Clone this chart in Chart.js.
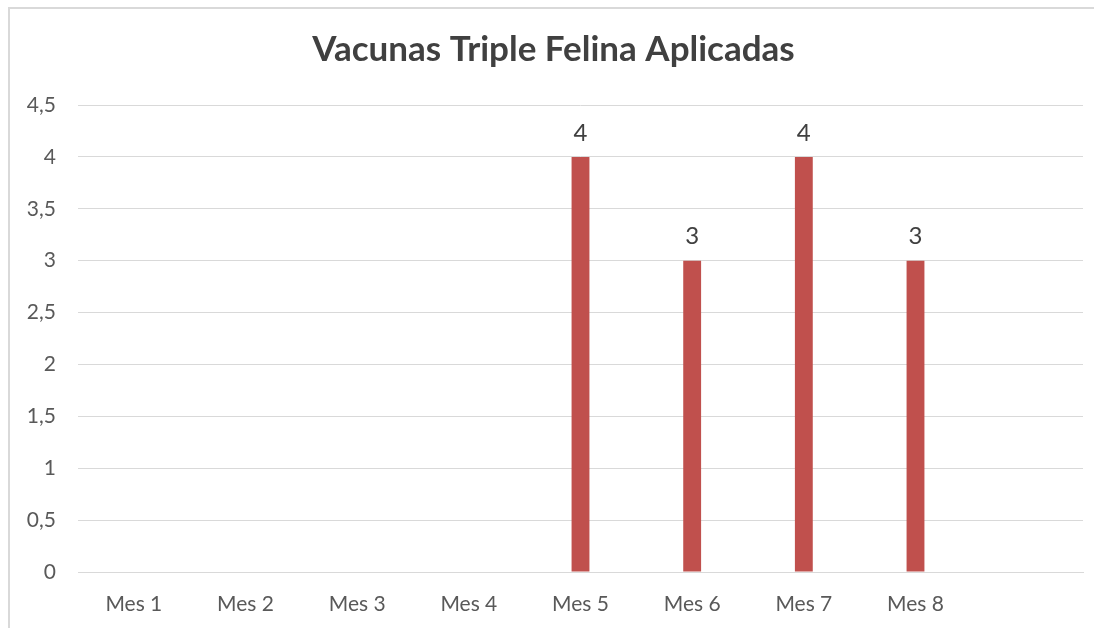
<!DOCTYPE html>
<html>
<head>
<meta charset="utf-8">
<script src="https://cdn.jsdelivr.net/npm/chart.js@4/dist/chart.umd.min.js"></script>
<style>
  html, body { margin: 0; padding: 0; background: #fff; }
  #frame {
    position: absolute; left: 8px; top: 7px; width: 1084px; height: 640px;
    border-left: 2px solid #d9d9d9; border-top: 2px solid #d9d9d9;
  }
  #wrap { position: absolute; left: 0; top: 0; width: 1098px; height: 628px; }
</style>
</head>
<body>
<div id="frame"></div>
<div id="wrap"><canvas id="myChart" width="1098" height="628"></canvas></div>
<script>
  "use strict";

  const categories = ["Mes 1", "Mes 2", "Mes 3", "Mes 4", "Mes 5", "Mes 6", "Mes 7", "Mes 8", ""];
  const vacunas = [null, null, null, null, 4, 3, 4, 3, null];
  const yTicks = [0, 0.5, 1, 1.5, 2, 2.5, 3, 3.5, 4, 4.5];

  const FONT = "Lato, 'Open Sans', sans-serif";

  // valores encima de las barras
  const barLabels = {
    id: "barLabels",
    afterDatasetsDraw(chart) {
      const ctx = chart.ctx;
      const meta = chart.getDatasetMeta(0);
      ctx.save();
      ctx.fillStyle = "#404040";
      ctx.font = "24px " + FONT;
      ctx.textAlign = "center";
      ctx.textBaseline = "bottom";
      meta.data.forEach(function (bar, i) {
        const v = vacunas[i];
        if (v === null || v === undefined) return;
        ctx.fillText(String(v), bar.x, bar.y - 12);
      });
      ctx.restore();
    },
  };

  const chart = new Chart(document.getElementById("myChart"), {
    type: "bar",
    data: {
      labels: categories,
      datasets: [
        {
          label: "Vacunas",
          data: vacunas,
          backgroundColor: "#c0504d",
          barPercentage: 0.32,
          categoryPercentage: 0.5,
        },
      ],
    },
    options: {
      responsive: false,
      animation: false,
      layout: { padding: { left: 24, right: 15, top: 0, bottom: 0 } },
      plugins: {
        legend: { display: false },
        tooltip: { enabled: false },
        title: {
          display: true,
          text: "Vacunas Triple Felina Aplicadas",
          color: "#404040",
          font: { family: FONT, size: 35, weight: "bold", lineHeight: 1.2 },
          padding: { top: 29, bottom: 34 },
        },
      },
      scales: {
        x: {
          afterFit(scale) { scale.height = 56; },
          grid: { display: false, drawTicks: false },
          border: { display: true, color: "#d9d9d9", width: 1 },
          ticks: { color: "#595959", font: { family: FONT, size: 21 }, padding: 20, maxRotation: 0 },
        },
        y: {
          min: 0,
          max: 4.5,
          afterBuildTicks(scale) {
            scale.ticks = yTicks.map(function (v) { return { value: v }; });
          },
          afterFit(scale) { scale.width = 54; },
          grid: { color: "#d9d9d9", drawTicks: false },
          border: { display: false },
          ticks: {
            color: "#595959",
            font: { family: FONT, size: 21 },
            padding: 22,
            callback: function (v) { return String(v).replace(".", ","); },
          },
        },
      },
    },
    plugins: [barLabels],
  });
</script>
</body>
</html>
